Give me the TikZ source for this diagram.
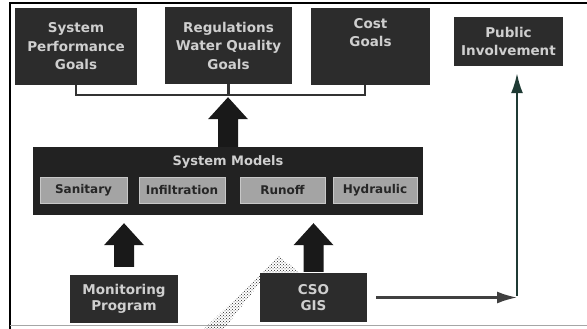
\documentclass[tikz,border=0pt]{standalone}
\usepackage{fontspec}
\setmainfont{DejaVu Sans}
\usetikzlibrary{arrows.meta,calc,patterns}
\definecolor{boxfill}{HTML}{2C2C2C}
\definecolor{modfill}{HTML}{222222}
\definecolor{boxtext}{HTML}{CFCFCF}
\definecolor{innerfill}{HTML}{A4A4A4}
\definecolor{linkgreen}{HTML}{1F3A34}
\newcommand\blockup[4]{%
  \fill[blockarrow] let \p1=($(#1)+(0,-#3)$), \p2=($(#2)+(0,#4)$) in
    ({\x1-10pt},\y1) -- ({\x1-10pt},{\y2-22pt}) -- ({\x1-20pt},{\y2-22pt}) --
    (\x1,\y2) -- ({\x1+20pt},{\y2-22pt}) -- ({\x1+10pt},{\y2-22pt}) --
    ({\x1+10pt},\y1) -- cycle;}
\begin{document}
\begin{tikzpicture}[x=1pt,y=-1pt,
  darkbox/.style={fill=boxfill, text=boxtext, align=center, inner sep=0pt,
    font=\fontsize{13.5}{18.5}\selectfont\bfseries},
  smallbox/.style={darkbox, font=\fontsize{13.5}{15.5}\selectfont\bfseries},
  boxlabel/.style={text=boxtext, align=center, inner sep=0pt,
    font=\fontsize{13.5}{18.5}\selectfont\bfseries},
  innerbox/.style={fill=innerfill, draw=innerfill!60!white, line width=0.8pt,
    text=black!85, inner sep=0pt, font=\fontsize{12}{14}\selectfont\bfseries},
  bus/.style={line width=2.6pt, draw=black!80},
  blockarrow/.style={fill=black!90},
  link/.style={line width=2.2pt, -{Latex[length=20pt,width=12pt]}}
]
\useasboundingbox (0,0) rectangle (587,329);
% frame
\draw[line width=2pt] (10,329) -- (10,3) -- (587,3);
\draw[black!35, line width=1pt] (10,325) -- (587,325);

% goal boxes
\node[darkbox, minimum width=122, minimum height=77] (spg) at (76,46.5)
  {System\\Performance\\Goals};
\node[darkbox, minimum width=127, minimum height=77] (reg) at (228.5,45.5)
  {Regulations\\Water Quality\\Goals};
\node[darkbox, minimum width=119, minimum height=77] (cost) at (370.5,46.5) {};
\node[boxlabel] (costlabel) at ($(cost.north)+(0,25)$) {Cost\\Goals};
\node[darkbox, minimum width=109, minimum height=49] (pub) at (508.5,41.5)
  {Public\\Involvement};

% bus connecting goals
\coordinate (busmid) at ($(reg.south)+(0,11)$);
\coordinate (costdrop) at ($(cost.south)+(-5.5,0)$);
\draw[bus] (spg.south) |- (busmid) -| (costdrop);
\draw[bus] (reg.south) -- (busmid);

% system models
\node[fill=modfill, minimum width=390, minimum height=68, inner sep=0pt] (models) at (228,181) {};
\node[text=boxtext, inner sep=0pt, font=\fontsize{13}{15}\selectfont\bfseries] (modlabel) at (228,162) {System Models};
\node[innerbox, minimum width=87, minimum height=26] (san) at (83.5,190) {Sanitary};
\node[innerbox, minimum width=86, minimum height=26] (inf) at (182,190) {Infiltration};
\node[innerbox, minimum width=85, minimum height=26] (run) at (282.5,190) {Runoff};
\node[innerbox, minimum width=84, minimum height=26] (hyd) at (375,190) {Hydraulic};

% big arrow up to goals
\blockup{models.north}{busmid}{0}{2}

% hatched band behind GIS box
\fill[pattern=crosshatch dots, pattern color=black!85]
  (204,329) -- (279,256) -- (300,273) -- (262,280) -- (224,329) -- cycle;

% inputs
\node[smallbox, minimum width=108, minimum height=48] (mon) at (124,299)
  {Monitoring\\Program};
\node[smallbox, minimum width=107, minimum height=49] (gis) at (313.5,297.5)
  {CSO\\GIS};
\blockup{mon.north}{models.south}{8}{8}
\blockup{gis.north}{models.south}{1}{8}

% link to public involvement
\coordinate (corner) at (517,297.5);
\coordinate (pubtarget) at ($(pub.south)+(0,7)$);
\draw[link, draw=black!75, fill=black!75] ([xshift=9]gis.east) -- (corner);
\draw[link, draw=linkgreen, fill=linkgreen] ([yshift=2]corner) -- (corner |- pubtarget);
\end{tikzpicture}
\end{document}
